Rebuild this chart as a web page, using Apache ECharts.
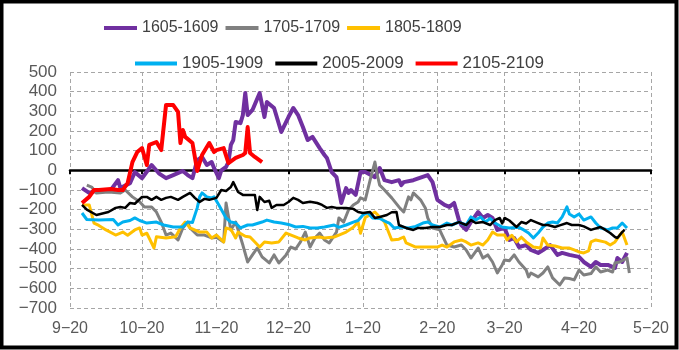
<!DOCTYPE html>
<html><head><meta charset="utf-8">
<script src="https://cdn.jsdelivr.net/npm/echarts@6/dist/echarts.min.js"></script>
<style>html,body{margin:0;padding:0;background:#fff}#c{width:679px;height:350px}</style>
</head><body><div id="c"></div><script>
const seriesNames = ['1605-1609','1705-1709','1805-1809','1905-1909','2005-2009','2105-2109'];
const seriesColors = ['#7030A0','#808080','#FFC000','#00B0F0','#000000','#FF0000'];
const tickLabels = ['9-20','10-20','11-20','12-20','1-20','2-20','3-20','4-20','5-20'];
const yTicks = [-700,-600,-500,-400,-300,-200,-100,0,100,200,300,400,500];
const firstDay = '2009-09-20', lastDay = '2010-05-20';

const s1605 = [['9-25',-90],['9-28',-115],['10-2',-100],['10-7',-100],['10-10',-50],['10-11',-90],['10-15',-65],['10-17',-9],['10-20',-40],['10-24',27],['10-27',-15],['10-30',-40],['11-2',-24],['11-6',-3],['11-8',-24],['11-10',-40],['11-12',52],['11-14',68],['11-16',27],['11-18',42],['11-19',12],['11-21',-40],['11-22',0],['11-24',17],['11-25',42],['11-26',129],['11-27',154],['11-28',246],['11-30',240],['12-1',281],['12-2',393],['12-3',281],['12-5',307],['12-8',393],['12-10',271],['12-11',347],['12-14',317],['12-17',195],['12-20',271],['12-22',317],['12-24',281],['12-26',220],['12-28',154],['12-30',170],['1-2',113],['1-4',78],['1-5',63],['1-7',-9],['1-9',-35],['1-11',-166],['1-13',-90],['1-14',-115],['1-15',-100],['1-17',-125],['1-19',-9],['1-21',-9],['1-25',-35],['1-27',12],['1-29',-50],['2-1',-60],['2-4',-50],['2-5',-75],['2-6',-60],['2-10',-50],['2-16',-24],['2-18',-60],['2-20',-150],['2-23',-176],['2-25',-186],['2-27',-166],['3-1',-253],['3-2',-278],['3-4',-303],['3-6',-263],['3-9',-212],['3-11',-242],['3-13',-227],['3-15',-242],['3-17',-303],['3-20',-293],['3-22',-354],['3-24',-344],['3-26',-390],['3-29',-380],['3-31',-405],['4-3',-420],['4-5',-405],['4-8',-380],['4-11',-430],['4-13',-420],['4-16',-430],['4-20',-440],['4-22',-466],['4-25',-491],['4-27',-466],['4-29',-481],['5-2',-481],['5-5',-496],['5-6',-446],['5-8',-466],['5-10',-420]];

const s1705 = [['9-27',-75],['9-29',-85],['10-1',-115],['10-6',-110],['10-11',-115],['10-13',-100],['10-16',-135],['10-19',-160],['10-21',-186],['10-24',-186],['10-26',-212],['10-28',-263],['10-30',-329],['11-1',-319],['11-4',-354],['11-6',-293],['11-8',-263],['11-9',-293],['11-12',-329],['11-15',-329],['11-18',-344],['11-20',-340],['11-23',-364],['11-24',-166],['11-26',-303],['11-28',-263],['12-1',-380],['12-3',-466],['12-5',-430],['12-7',-395],['12-9',-440],['12-12',-471],['12-14',-430],['12-16',-471],['12-19',-430],['12-21',-390],['12-23',-400],['12-25',-364],['12-27',-314],['12-29',-390],['12-31',-344],['1-2',-319],['1-4',-354],['1-6',-369],['1-9',-314],['1-10',-242],['1-12',-263],['1-14',-202],['1-16',-176],['1-18',-161],['1-19',-140],['1-21',-150],['1-23',-50],['1-25',42],['1-26',-24],['1-27',-75],['1-29',-100],['2-1',-140],['2-4',-186],['2-6',-212],['2-8',-135],['2-9',-150],['2-10',-115],['2-13',-150],['2-15',-191],['2-16',-242],['2-18',-293],['2-21',-303],['2-22',-329],['2-24',-380],['2-27',-390],['3-2',-380],['3-4',-405],['3-6',-446],['3-9',-395],['3-11',-446],['3-13',-430],['3-15',-466],['3-17',-522],['3-19',-481],['3-20',-456],['3-22',-460],['3-24',-430],['3-26',-466],['3-29',-507],['3-30',-542],['3-31',-522],['4-3',-542],['4-5',-522],['4-7',-491],['4-9',-547],['4-12',-583],['4-14',-547],['4-16',-550],['4-18',-557],['4-20',-507],['4-22',-532],['4-25',-525],['4-27',-491],['4-29',-517],['5-2',-507],['5-4',-517],['5-5',-471],['5-7',-466],['5-10',-446],['5-11',-522]];

const s1805 = [['9-25',-176],['9-28',-176],['9-30',-268],['10-2',-280],['10-5',-303],['10-9',-329],['10-12',-314],['10-14',-330],['10-17',-303],['10-19',-293],['10-20',-329],['10-22',-320],['10-25',-395],['10-26',-338],['10-30',-344],['11-3',-338],['11-5',-293],['11-7',-263],['11-9',-293],['11-13',-314],['11-16',-314],['11-18',-344],['11-20',-329],['11-23',-364],['11-24',-293],['11-26',-300],['11-28',-344],['11-29',-314],['12-2',-335],['12-4',-339],['12-8',-390],['12-10',-364],['12-13',-369],['12-16',-364],['12-19',-319],['12-24',-344],['12-27',-354],['12-29',-344],['1-2',-339],['1-4',-344],['1-8',-339],['1-10',-329],['1-13',-314],['1-16',-290],['1-18',-263],['1-19',-320],['1-21',-240],['1-25',-212],['1-27',-237],['1-29',-263],['1-30',-293],['2-1',-354],['2-4',-350],['2-6',-339],['2-7',-369],['2-11',-390],['2-14',-390],['2-17',-390],['2-20',-390],['2-22',-380],['2-24',-390],['2-27',-364],['3-2',-354],['3-4',-364],['3-6',-380],['3-9',-369],['3-11',-380],['3-13',-354],['3-15',-314],['3-17',-329],['3-20',-329],['3-21',-354],['3-23',-330],['3-25',-364],['3-27',-340],['3-29',-364],['4-1',-390],['4-4',-395],['4-5',-344],['4-7',-380],['4-10',-385],['4-13',-395],['4-16',-395],['4-18',-405],['4-20',-415],['4-22',-420],['4-24',-410],['4-25',-364],['4-27',-354],['5-1',-365],['5-3',-380],['5-5',-364],['5-7',-329],['5-8',-314],['5-10',-380]];

const s1905 = [['9-25',-217],['9-27',-250],['10-2',-253],['10-8',-250],['10-10',-278],['10-12',-263],['10-15',-255],['10-17',-242],['10-19',-255],['10-22',-268],['10-26',-263],['10-29',-278],['11-2',-288],['11-6',-288],['11-8',-263],['11-10',-265],['11-12',-191],['11-13',-135],['11-14',-115],['11-16',-135],['11-18',-140],['11-19',-135],['11-21',-176],['11-24',-242],['11-26',-263],['11-28',-268],['11-30',-293],['12-3',-278],['12-5',-278],['12-9',-263],['12-11',-253],['12-14',-263],['12-17',-268],['12-20',-275],['12-23',-288],['12-26',-285],['12-29',-293],['1-1',-293],['1-4',-288],['1-8',-278],['1-10',-290],['1-13',-278],['1-16',-263],['1-18',-255],['1-20',-227],['1-22',-215],['1-24',-242],['1-27',-245],['1-30',-263],['1-31',-268],['2-2',-293],['2-5',-288],['2-8',-293],['2-11',-285],['2-14',-268],['2-16',-263],['2-18',-278],['2-21',-288],['2-24',-268],['2-26',-278],['3-1',-263],['3-4',-278],['3-6',-237],['3-8',-253],['3-10',-237],['3-12',-263],['3-14',-245],['3-16',-268],['3-19',-288],['3-22',-293],['3-26',-290],['3-28',-303],['3-30',-319],['4-1',-344],['4-3',-319],['4-5',-288],['4-7',-268],['4-9',-263],['4-11',-268],['4-13',-237],['4-15',-186],['4-16',-222],['4-18',-237],['4-20',-222],['4-22',-253],['4-25',-237],['4-27',-268],['4-29',-293],['5-2',-303],['5-4',-293],['5-6',-293],['5-8',-268],['5-10',-293]];

const s2005 = [['9-25',-176],['9-27',-200],['10-1',-227],['10-6',-212],['10-9',-191],['10-11',-186],['10-13',-191],['10-15',-166],['10-17',-170],['10-20',-135],['10-22',-135],['10-24',-150],['10-26',-135],['10-28',-150],['10-30',-140],['11-1',-135],['11-4',-150],['11-6',-135],['11-9',-115],['11-11',-140],['11-13',-161],['11-15',-145],['11-17',-150],['11-20',-140],['11-22',-100],['11-24',-105],['11-26',-85],['11-27',-60],['11-29',-110],['12-1',-125],['12-4',-125],['12-6',-125],['12-7',-202],['12-8',-135],['12-10',-161],['12-12',-155],['12-13',-191],['12-15',-176],['12-18',-176],['12-20',-161],['12-22',-140],['12-24',-150],['12-26',-166],['12-29',-160],['1-1',-166],['1-3',-176],['1-5',-191],['1-7',-186],['1-9',-191],['1-13',-191],['1-16',-196],['1-18',-212],['1-20',-217],['1-23',-212],['1-25',-242],['1-27',-237],['1-30',-227],['2-1',-213],['2-3',-212],['2-4',-278],['2-7',-293],['2-10',-303],['2-12',-293],['2-15',-293],['2-18',-288],['2-21',-288],['2-24',-278],['2-26',-278],['3-1',-263],['3-4',-278],['3-6',-253],['3-8',-268],['3-11',-263],['3-14',-278],['3-16',-253],['3-18',-242],['3-19',-270],['3-20',-242],['3-22',-255],['3-25',-288],['3-27',-263],['3-29',-270],['3-31',-253],['4-3',-268],['4-5',-278],['4-7',-278],['4-10',-288],['4-12',-280],['4-15',-268],['4-17',-278],['4-20',-278],['4-22',-285],['4-25',-303],['4-27',-295],['4-29',-288],['5-1',-303],['5-3',-319],['5-5',-339],['5-6',-344],['5-8',-314],['5-9',-303]];

const s2105 = [['9-25',-166],['9-28',-135],['9-30',-100],['10-2',-100],['10-7',-95],['10-10',-100],['10-12',-100],['10-14',-65],['10-16',42],['10-18',93],['10-20',113],['10-22',27],['10-23',129],['10-26',144],['10-28',103],['10-30',332],['11-2',332],['11-4',297],['11-5',139],['11-6',205],['11-7',170],['11-10',139],['11-12',-3],['11-14',78],['11-17',139],['11-19',93],['11-20',103],['11-23',113],['11-25',37],['11-28',63],['12-1',78],['12-2',88],['12-3',220],['12-4',88],['12-6',68],['12-9',42]];

const seriesData = [s1605, s1705, s1805, s1905, s2005, s2105];
const lineWidths = [4, 3, 3, 3, 2.5, 4];

// daily category axis from firstDay to lastDay
const categories = [];
(function(){
  const start = Date.parse(firstDay + 'T00:00:00Z'), end = Date.parse(lastDay + 'T00:00:00Z');
  for (let t = start; t <= end; t += 86400000) {
    const d = new Date(t);
    categories.push((d.getUTCMonth() + 1) + '-' + d.getUTCDate());
  }
})();
const isTick = (i, v) => tickLabels.indexOf(v) >= 0;
const minus = s => String(s).replace(/-/g, '\u2212');

const chart = echarts.init(document.getElementById('c'), null, {renderer: 'canvas'});
const gridLine = {show: true, lineStyle: {color: '#A6A6A6', width: 1, type: [4, 3]}};
const font = "'Liberation Sans', Arial, sans-serif";

chart.setOption({
  animation: false,
  backgroundColor: '#fff',
  grid: {left: 70, right: 28, top: 72, bottom: 42, containLabel: false, outerBoundsMode: 'none'},
  legend: [
    {data: seriesNames.slice(0, 3), left: 104, top: 20, padding: 0, itemWidth: 33, itemHeight: 4, itemGap: 7, icon: 'rect',
     textStyle: {fontSize: 16, color: '#404040', fontFamily: "'Liberation Sans Narrow', 'Arial Narrow', sans-serif"}},
    {data: seriesNames.slice(3), left: 135, top: 55, padding: 0, itemWidth: 42, itemHeight: 4, itemGap: 12, icon: 'rect',
     textStyle: {fontSize: 17, color: '#404040', fontFamily: font}}
  ],
  xAxis: [
    {type: 'category', data: categories, boundaryGap: false, position: 'bottom',
     axisLine: {show: false, onZero: false}, axisTick: {show: false},
     axisLabel: {interval: isTick, formatter: v => minus(v), fontSize: 16, color: '#595959', fontFamily: font, margin: 13},
     splitLine: Object.assign({interval: isTick}, gridLine)},
    {type: 'category', data: categories, boundaryGap: false, position: 'bottom',
     axisLine: {show: true, onZero: true, lineStyle: {color: '#000', width: 2.5}},
     axisTick: {show: true, interval: isTick, length: 4, lineStyle: {color: '#000', width: 2}},
     axisLabel: {show: false}, splitLine: {show: false}}
  ],
  yAxis: {
    type: 'value', min: yTicks[0], max: yTicks[yTicks.length - 1], interval: 100,
    axisLine: {show: false}, axisTick: {show: false},
    axisLabel: {formatter: v => minus(v), fontSize: 17, color: '#595959', fontFamily: font, margin: 13},
    splitLine: gridLine
  },
  series: seriesNames.map((n, i) => ({
    name: n, type: 'line', data: seriesData[i], xAxisIndex: 0,
    showSymbol: false, symbol: 'none', smooth: false,
    color: seriesColors[i],
    lineStyle: {color: seriesColors[i], width: lineWidths[i], join: 'round'}
  })),
  graphic: [{type: 'rect', silent: true, z: 100,
    shape: {x: 1.5, y: 1.5, width: 675, height: 346},
    style: {fill: null, stroke: '#000', lineWidth: 4}}]
});
</script></body></html>
